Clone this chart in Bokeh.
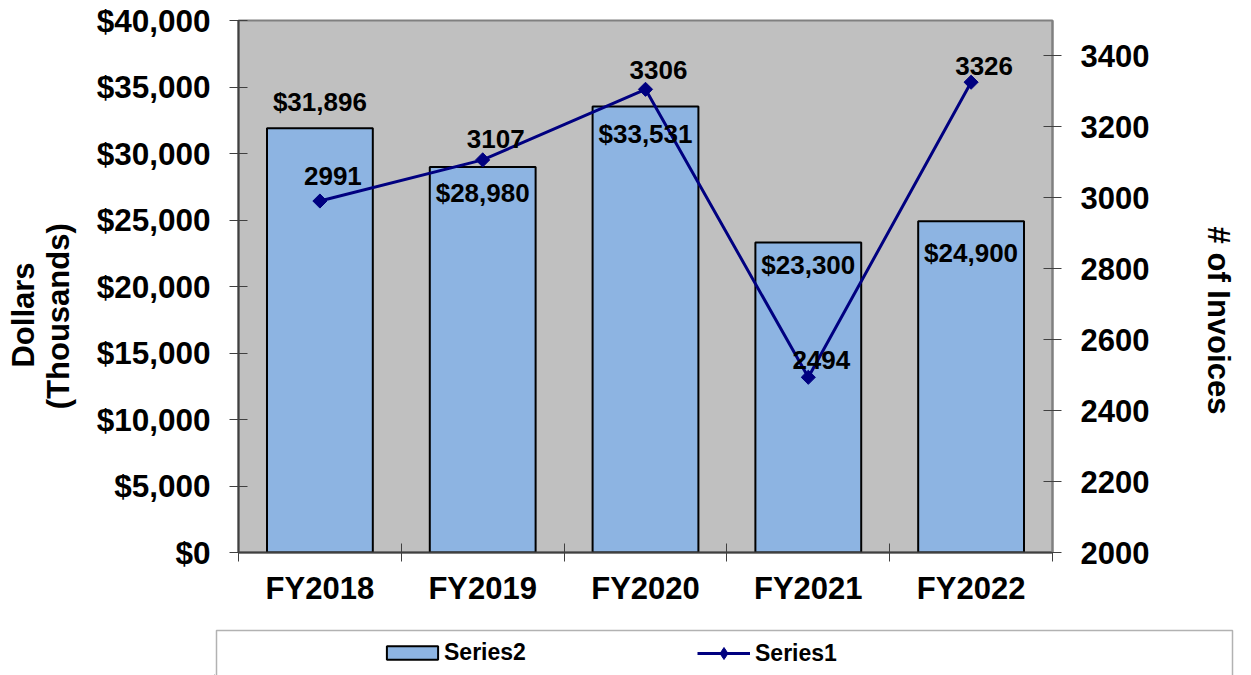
import numpy as np
from bokeh.plotting import figure
from bokeh.layouts import row, column
from bokeh.models import (Range1d, LinearAxis, FixedTicker, NumeralTickFormatter,
                          ColumnDataSource, LabelSet, Label, Legend, LegendItem,
                          BoxAnnotation, Spacer)
from bokeh.core.properties import value
from bokeh.embed import file_html
from bokeh.resources import INLINE

# ---------------- data ----------------
categories = ["FY2018", "FY2019", "FY2020", "FY2021", "FY2022"]
dollars = [31896, 28980, 33531, 23300, 24900]      # Series2 (bars, left axis)
invoices = [2991, 3107, 3306, 2494, 3326]          # Series1 (line, right axis)
dollar_ticks = [0, 5000, 10000, 15000, 20000, 25000, 30000, 35000, 40000]
invoice_ticks = [2000, 2200, 2400, 2600, 2800, 3000, 3200, 3400]
left_title = ["Dollars", "(Thousands)"]
right_title = "# of Invoices"
series_names = ["Series2", "Series1"]

# ---------------- style ----------------
FONT_NAME = "Liberation Sans"
FONT = value(FONT_NAME)
bar_label_dy = [17, -35, -36, -31, -41]     # px, baseline relative to bar top
line_label_dy = [16, 12, 10, 8, 7]          # px, baseline relative to marker
line_label_dx = 13
BAR_FILL = "#8DB4E2"
LINE_COL = "#000080"
AX_COL = "#404040"
TITLE_SHIFT = 21                            # px, empirical correction for rotated labels

LEFT_W, RIGHT_W = 90, 91
MAIN_H = 628
xs = np.arange(len(categories)) + 0.5


def blank_fig(w, h):
    f = figure(width=w, height=h, frame_width=w, frame_height=h, min_border=0,
               x_range=Range1d(0, 1), y_range=Range1d(0, 1),
               x_axis_location=None, y_axis_location=None,
               output_backend="svg", toolbar_location=None,
               background_fill_color="white", border_fill_color="white",
               outline_line_color=None)
    f.grid.visible = False
    return f


# ---------------- main chart ----------------
p = figure(width=1251 - LEFT_W - RIGHT_W, height=MAIN_H, frame_width=814, frame_height=532,
           min_border_left=238 - LEFT_W, min_border_right=1251 - RIGHT_W - 1052,
           min_border_top=20, min_border_bottom=MAIN_H - 552,
           x_range=Range1d(0, len(categories)), y_range=Range1d(0, 40000),
           output_backend="svg", toolbar_location=None,
           background_fill_color="#C0C0C0", border_fill_color="white",
           outline_line_color="#808080", outline_line_width=2)
p.xgrid.visible = False
p.ygrid.visible = False
p.extra_y_ranges = {"inv": Range1d(2000, 3500)}


def style_axis(ax, size="31px"):
    ax.major_label_text_font = FONT_NAME
    ax.major_label_text_font_style = "bold"
    ax.major_label_text_font_size = size
    ax.major_label_text_color = "black"


ly = p.yaxis[0]
ly.ticker = FixedTicker(ticks=dollar_ticks)
ly.formatter = NumeralTickFormatter(format="$0,0")
ly.major_tick_in = 9
ly.major_tick_out = 9
ly.minor_tick_line_color = None
ly.major_tick_line_color = AX_COL
ly.axis_line_color = AX_COL
ly.axis_line_width = 2
ly.major_label_standoff = 19
style_axis(ly, "31.5px")

ry = LinearAxis(y_range_name="inv", ticker=FixedTicker(ticks=invoice_ticks))
ry.major_tick_in = 9
ry.major_tick_out = 9
ry.minor_tick_line_color = None
ry.major_tick_line_color = AX_COL
ry.axis_line_color = "#808080"
ry.axis_line_width = 2
ry.major_label_standoff = 19
style_axis(ry)
p.add_layout(ry, "right")

bx = p.xaxis[0]
bx.ticker = FixedTicker(ticks=list(xs), minor_ticks=list(range(len(categories) + 1)))
bx.major_label_overrides = {float(x): c for x, c in zip(xs, categories)}
bx.major_tick_in = 0
bx.major_tick_out = 0
bx.minor_tick_in = 9
bx.minor_tick_out = 9
bx.minor_tick_line_color = AX_COL
bx.axis_line_color = AX_COL
bx.axis_line_width = 2
bx.major_label_standoff = 9
style_axis(bx)

bar_src = ColumnDataSource(dict(x=xs, top=dollars,
                                label=[f"${v:,.0f}" for v in dollars],
                                dy=bar_label_dy))
p.vbar(x="x", top="top", width=0.65, source=bar_src,
       fill_color=BAR_FILL, line_color="black", line_width=2)

line_src = ColumnDataSource(dict(x=xs, y=invoices, label=[str(v) for v in invoices],
                                 dy=line_label_dy))
p.line("x", "y", source=line_src, y_range_name="inv", line_color=LINE_COL, line_width=3)
p.scatter("x", "y", source=line_src, y_range_name="inv", marker="square",
          angle=np.pi / 4, size=10, fill_color=LINE_COL, line_color=LINE_COL)

p.add_layout(LabelSet(x="x", y="top", text="label", y_offset="dy", source=bar_src,
                      text_align="center", text_baseline="alphabetic",
                      text_font=FONT, text_font_style="bold", text_font_size="26px",
                      text_color="black"))
p.add_layout(LabelSet(x="x", y="y", text="label", y_offset="dy", x_offset=line_label_dx,
                      source=line_src, y_range_name="inv",
                      text_align="center", text_baseline="alphabetic",
                      text_font=FONT, text_font_style="bold", text_font_size="26px",
                      text_color="black"))

# ---------------- axis titles ----------------
lt = blank_fig(LEFT_W, MAIN_H)
for txt, sx, sy in zip(left_title, [22.5, 58.3], [315.5, 316.7]):
    lt.add_layout(Label(x=sx, y=MAIN_H - sy + TITLE_SHIFT, x_units="screen", y_units="screen",
                        text=txt, angle=np.pi / 2, text_align="center", text_baseline="middle",
                        text_font=FONT_NAME, text_font_style="bold", text_font_size="31px",
                        text_color="black"))

rt = blank_fig(RIGHT_W, MAIN_H)
rt.add_layout(Label(x=1218 - (1251 - RIGHT_W), y=MAIN_H - 321 + TITLE_SHIFT,
                    x_units="screen", y_units="screen",
                    text=right_title, angle=-np.pi / 2, text_align="center",
                    text_baseline="middle", text_font=FONT_NAME, text_font_style="bold",
                    text_font_size="31px", text_color="black"))

# ---------------- legend ----------------
LG_X, LG_W, LG_H = 214, 1020, 675 - MAIN_H
lg = blank_fig(LG_W, LG_H)
lg.add_layout(BoxAnnotation(left=2, right=1018, top=LG_H - 2, bottom=-30,
                            left_units="screen", right_units="screen",
                            top_units="screen", bottom_units="screen",
                            fill_color="white", fill_alpha=1.0,
                            line_color="black", line_width=1.5))
# legend swatch renderers (placed outside the visible range)
d_bar = lg.vbar(x=[-10], top=[-10], width=0.5, fill_color=BAR_FILL,
                line_color="black", line_width=2)
d_line = lg.line(x=[-10, -9], y=[-10, -10], line_color=LINE_COL, line_width=3)
d_mk = lg.scatter(x=[-10], y=[-10], marker="diamond", size=10,
                  fill_color=LINE_COL, line_color=LINE_COL)

common = dict(padding=0, spacing=0, margin=0, label_text_font=FONT_NAME,
              label_text_font_style="bold", label_text_font_size="23px",
              label_text_color="black", border_line_color=None,
              background_fill_alpha=0.0)
leg2 = Legend(items=[LegendItem(label=series_names[0], renderers=[d_bar])],
              location=(380 - LG_X, 9), glyph_width=64, glyph_height=17, label_height=17,
              label_standoff=0, **common)
leg1 = Legend(items=[LegendItem(label=series_names[1], renderers=[d_line, d_mk])],
              location=(697 - LG_X, 7), glyph_width=53, glyph_height=30, label_height=30,
              label_standoff=5, **common)
lg.add_layout(leg2, "center")
lg.add_layout(leg1, "center")

layout = column(row(lt, p, rt), row(Spacer(width=LG_X, height=LG_H), lg))

open("out.html", "w").write(file_html(layout, INLINE))
